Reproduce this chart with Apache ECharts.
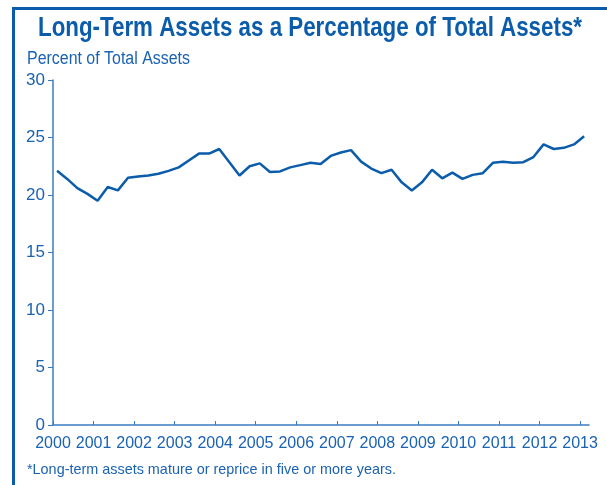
<!DOCTYPE html>
<html>
<head>
<meta charset="utf-8">
<script src="https://cdn.jsdelivr.net/npm/echarts@6/dist/echarts.min.js"></script>
<style>
  html, body { margin: 0; padding: 0; background: #fff; }
  #chart { width: 607px; height: 485px; }
</style>
</head>
<body>
<div id="chart"></div>
<script>
// quarterly readings, 2000 Q1 .. 2013 Q1
const startYear = 2000
const yearTicks = [2000, 2001, 2002, 2003, 2004, 2005, 2006, 2007, 2008, 2009, 2010, 2011, 2012, 2013]
const yTicks = [0, 5, 10, 15, 20, 25, 30]
const longTermShare = [
  22.1, 21.4, 20.6, 20.1, 19.5, 20.7, 20.4, 21.5, 21.6, 21.7,
  21.85, 22.1, 22.4, 23.0, 23.6, 23.6, 24.0, 22.85, 21.7, 22.5,
  22.75, 22.0, 22.05, 22.4, 22.6, 22.8, 22.7, 23.4, 23.7, 23.9,
  22.9, 22.3, 21.9, 22.2, 21.1, 20.4, 21.1, 22.2, 21.45, 21.95,
  21.4, 21.75, 21.9, 22.8, 22.9, 22.8, 22.85, 23.3, 24.4, 24.0,
  24.1, 24.4, 25.1
]

const blue = '#0b5cab'
const textBlue = '#1a62b3'
const fontName = '"Liberation Sans", Arial, sans-serif'

// x position of each quarter (year + fraction)
const points = longTermShare.map((v, i) => [startYear + 0.1 + i * 0.25, v])

// the original uses a condensed face, so squeeze text horizontally to its width
const measureCtx = document.createElement('canvas').getContext('2d')
function squeezedText(text, font, x, y, targetWidth, color) {
  measureCtx.font = font
  const w = measureCtx.measureText(text).width
  return {
    type: 'text',
    x: x, y: y,
    scaleX: targetWidth / w,
    style: { text: text, x: 0, y: 0, font: font, fill: color, textVerticalAlign: 'top' }
  }
}

const chart = echarts.init(document.getElementById('chart'))
chart.setOption({
  animation: false,
  textStyle: { fontFamily: fontName },
  graphic: [
    { type: 'rect', shape: { x: 12, y: 7, width: 595, height: 3 }, style: { fill: blue } },
    { type: 'rect', shape: { x: 12, y: 7, width: 3, height: 478 }, style: { fill: blue } },
    squeezedText('Long-Term Assets as a Percentage of Total Assets*', 'bold 27px ' + fontName, 38, 15, 544, blue),
    squeezedText('Percent of Total Assets', '18px ' + fontName, 27, 50, 163, textBlue),
    squeezedText('*Long-term assets mature or reprice in five or more years.', '15px ' + fontName, 27, 462, 369, textBlue)
  ],
  grid: { left: 53, right: 18, top: 80, bottom: 60, containLabel: false },
  xAxis: {
    type: 'value',
    min: 2000, max: 2013.22,
    splitLine: { show: false },
    axisLine: { lineStyle: { color: '#3a7cc3', width: 1.5 } },
    axisTick: { inside: true, length: 4, lineStyle: { color: '#3a7cc3' }, customValues: yearTicks },
    axisLabel: {
      color: textBlue, fontSize: 16, margin: 11, customValues: yearTicks,
      showMinLabel: true, hideOverlap: false,
      formatter: v => String(v)
    }
  },
  yAxis: {
    type: 'value',
    min: 0, max: 30, interval: 5,
    splitLine: { show: false },
    axisLine: { show: true, lineStyle: { color: '#3a7cc3', width: 1.5 } },
    axisTick: { show: true, length: 5, lineStyle: { color: '#3a7cc3' }, customValues: yTicks },
    axisLabel: { color: textBlue, fontSize: 17, margin: 8, customValues: yTicks }
  },
  series: [
    {
      type: 'line',
      data: points,
      showSymbol: false,
      lineStyle: { color: blue, width: 2.5 }
    }
  ]
})
</script>
</body>
</html>
